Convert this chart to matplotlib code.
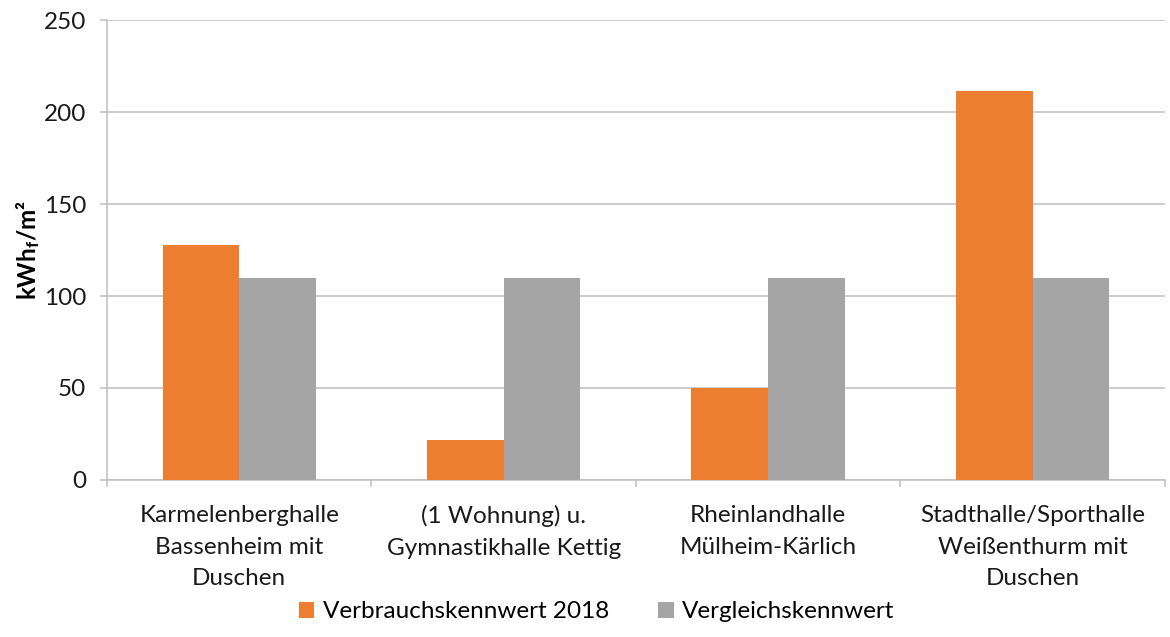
import matplotlib
matplotlib.use("Agg")
import matplotlib.pyplot as plt
import numpy as np

categories = ["Karmelenberghalle\nBassenheim mit\nDuschen",
              "(1 Wohnung) u.\nGymnastikhalle Kettig",
              "Rheinlandhalle\nMülheim-Kärlich",
              "Stadthalle/Sporthalle\nWeißenthurm mit\nDuschen"]
verbrauch = [128, 21.5, 50, 211.5]
vergleich = [110, 110, 110, 110]
series_names = ["Verbrauchskennwert 2018", "Vergleichskennwert"]
yticks = [0, 50, 100, 150, 200, 250]

plt.rcParams['font.family'] = ['Lato', 'DejaVu Sans']
plt.rcParams['mathtext.default'] = 'regular'

fig = plt.figure(figsize=(11.7, 6.37), dpi=100)
ax = fig.add_axes([0.0915, 0.2465, 0.904, 0.722])

x = np.arange(len(categories))
w = 0.29
ax.bar(x - w/2, verbrauch, w, color="#ED7D31", label=series_names[0], zorder=3)
ax.bar(x + w/2, vergleich, w, color="#A5A5A5", label=series_names[1], zorder=3)

ax.set_xlim(-0.5, len(categories) - 0.5)
ax.set_ylim(0, 250)
ax.set_yticks(yticks)
ax.yaxis.grid(True, color="#BFBFBF", linewidth=1.1, zorder=0)
ax.set_axisbelow(True)

for s in ["top", "right"]:
    ax.spines[s].set_visible(False)
ax.spines["left"].set_color("#BFBFBF")
ax.spines["bottom"].set_color("#BFBFBF")
ax.spines["left"].set_linewidth(1.1)
ax.spines["bottom"].set_linewidth(1.1)

ax.set_xticks(x)
ax.set_xticklabels(categories, fontsize=17.5, color="#1a1a1a", linespacing=1.63)
ax.set_xticks(np.arange(-0.5, len(categories)), minor=True)
ax.tick_params(axis="x", which="major", length=0, pad=18)
ax.tick_params(axis="x", which="minor", length=5, color="#BFBFBF", width=1.1)
ax.tick_params(axis="y", length=5, color="#BFBFBF", width=1.1, labelsize=17.5,
               labelcolor="#1a1a1a", pad=10)

ax.set_ylabel(r"kWh$_{f}$/m²", fontsize=17.5, fontweight="bold", labelpad=1)

ax.legend(loc="center", bbox_to_anchor=(596.5 / 1170, 1 - 612 / 637),
          bbox_transform=fig.transFigure, ncol=2, frameon=False, fontsize=17.5,
          handlelength=0.65, handleheight=0.65, columnspacing=2.0, handletextpad=0.35)

fig.savefig("out.png", dpi=100)
